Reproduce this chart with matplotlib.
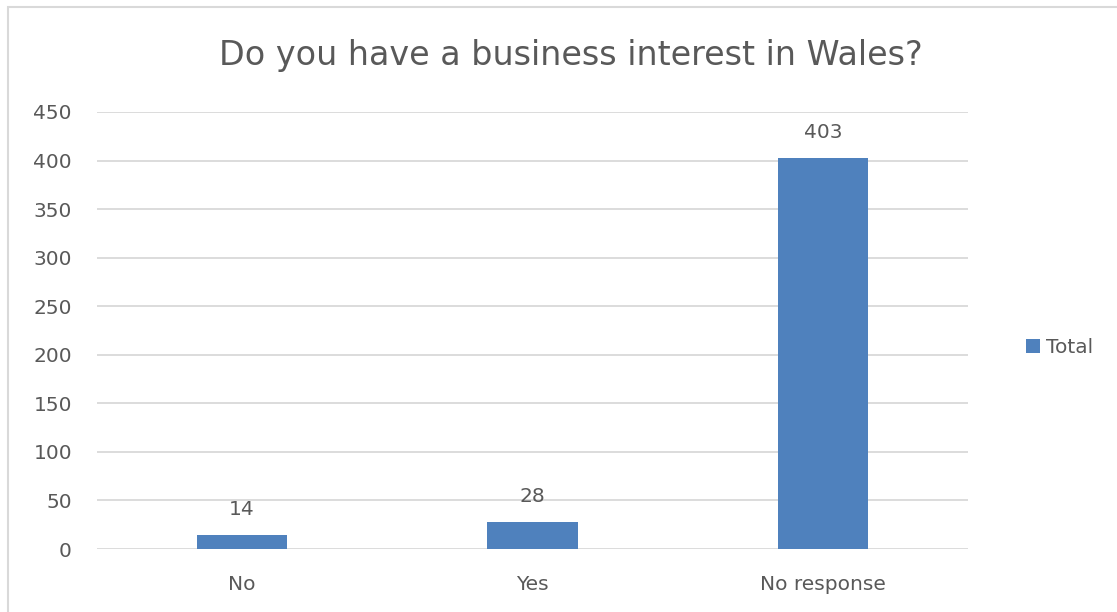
import matplotlib
matplotlib.use("Agg")
import matplotlib.pyplot as plt
from matplotlib.patches import Rectangle

categorias = ["No", "Yes", "No response"]
totales = [14, 28, 403]
ticks_y = [0, 50, 100, 150, 200, 250, 300, 350, 400, 450]

azul = "#4F81BD"
gris_texto = "#595959"

plt.rcParams["font.family"] = ["DejaVu Sans"]

fig = plt.figure(figsize=(11.17, 6.12), dpi=100)
ax = fig.add_axes([0.0868, 0.1029, 0.78, 0.7141])

x = range(len(categorias))
barras = ax.bar(x, totales, width=0.312, color=azul, label="Total", zorder=3)

for b, v in zip(barras, totales):
    ax.annotate(str(v), (b.get_x() + b.get_width() / 2, v), xytext=(0, 11.5),
                textcoords="offset points", ha="center", va="bottom",
                fontsize=14.5, color=gris_texto)

ax.set_xlim(-0.5, len(categorias) - 0.5)
ax.set_ylim(0, 450)
ax.set_yticks(ticks_y)
ax.set_xticks(list(x))
ax.set_xticklabels(categorias)
ax.tick_params(axis="both", length=0, labelsize=14.5, labelcolor=gris_texto)
ax.tick_params(axis="y", pad=18)
ax.tick_params(axis="x", pad=19)
ax.grid(axis="y", color="#D9D9D9", linewidth=1.3, zorder=0)
for s in ax.spines.values():
    s.set_visible(False)

fig.suptitle("Do you have a business interest in Wales?", x=0.511, y=0.937,
             fontsize=24, color=gris_texto)

ax.legend(loc="center left", bbox_to_anchor=(1.045, 0.462), frameon=False,
          fontsize=14.5, labelcolor=gris_texto, handlelength=0.7,
          handleheight=0.7, handletextpad=0.3)

# marco del grafico
fig.patches.append(Rectangle((0.0072, -0.05), 1.1, 1.038, transform=fig.transFigure,
                             fill=False, edgecolor="#D9D9D9", linewidth=1.5))

plt.savefig("out.png", dpi=100)
